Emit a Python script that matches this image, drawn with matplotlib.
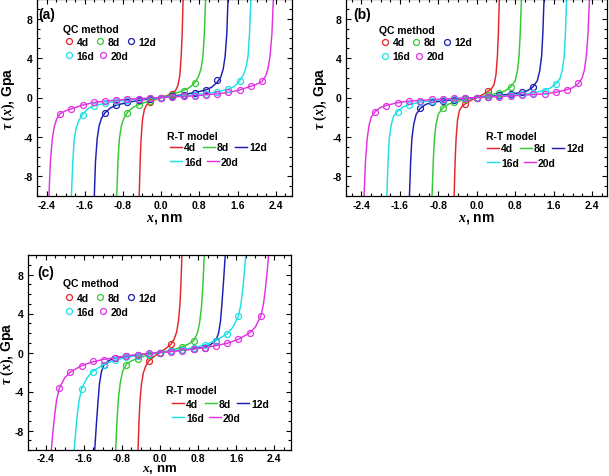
import matplotlib
matplotlib.use("Agg")
import matplotlib.pyplot as plt
from matplotlib.ticker import FixedLocator, FixedFormatter, MultipleLocator

plt.rcParams['font.family'] = ['Liberation Sans', 'DejaVu Sans']
plt.rcParams['font.weight'] = 'bold'
plt.rcParams['mathtext.fontset'] = 'custom'
plt.rcParams['mathtext.it'] = 'Liberation Serif:italic:bold'
plt.rcParams['mathtext.rm'] = 'Liberation Serif:bold'
plt.rcParams['mathtext.bf'] = 'Liberation Serif:bold'

# ---------------- data ----------------
SIZES = ['4d', '8d', '12d', '16d', '20d']
COLORS = ['#E4262B', '#35C935', '#1E1EB2', '#1EE0E6', '#E232E2']
PANELS = ['(a)', '(b)', '(c)']
XTICKS = [-2.4, -1.6, -0.8, 0.0, 0.8, 1.6, 2.4]
XTICK_LABELS = ['-2.4', '-1.6', '-0.8', '0.0', '0.8', '1.6', '2.4']
YTICKS = [-8, -4, 0, 4, 8]
YTICK_LABELS = ['-8', '-4', '0', '4', '8']

# QC method sample positions (nm)
QC_X_4D = [-0.235, 0.0, 0.235]
QC_X_8D = [-0.705, -0.47, -0.235, 0.0, 0.235, 0.47, 0.705]
QC_X_12D = [-1.175, -0.94, -0.705, -0.47, -0.235, 0.0, 0.235, 0.47, 0.705, 0.94, 1.175]
QC_X_16D = [-1.645, -1.41, -1.175, -0.94, -0.705, -0.47, -0.235, 0.0,
            0.235, 0.47, 0.705, 0.94, 1.175, 1.41, 1.645]
QC_X_20D = [-2.115, -1.88, -1.645, -1.41, -1.175, -0.94, -0.705, -0.47, -0.235, 0.0,
            0.235, 0.47, 0.705, 0.94, 1.175, 1.41, 1.645, 1.88, 2.115]

# ---- panel (a) ----
A_QC_4D = [-0.45, 0.0, 0.40]
A_QC_8D = [-1.53, -0.75, -0.34, 0.0, 0.30, 0.68, 1.50]
A_QC_12D = [-1.53, -0.78, -0.50, -0.30, -0.13, 0.0, 0.13, 0.30, 0.50, 0.78, 1.73]
A_QC_16D = [-1.75, -0.85, -0.60, -0.40, -0.27, -0.17, -0.08, 0.0,
            0.08, 0.17, 0.27, 0.40, 0.58, 0.85, 1.67]
A_QC_20D = [-1.63, -1.13, -0.75, -0.50, -0.36, -0.27, -0.18, -0.11, -0.05, 0.0,
            0.05, 0.11, 0.17, 0.26, 0.37, 0.52, 0.78, 1.15, 1.65]

A_RT_X_4D = [-0.475, -0.46, -0.44, -0.42, -0.39, -0.35, -0.30, -0.235, -0.12, 0.0,
             0.12, 0.235, 0.30, 0.35, 0.39, 0.42, 0.44, 0.46, 0.475]
A_RT_4D = [-14.0, -10.0, -6.5, -4.2, -2.2, -1.2, -0.70, -0.42, -0.20, 0.0,
           0.20, 0.42, 0.70, 1.2, 2.2, 4.2, 6.5, 10.0, 14.0]
A_RT_X_8D = [-0.945, -0.93, -0.905, -0.875, -0.835, -0.78, -0.705, -0.59, -0.47, -0.235, 0.0,
             0.235, 0.47, 0.59, 0.705, 0.78, 0.835, 0.875, 0.905, 0.93, 0.945]
A_RT_8D = [-14.0, -10.0, -6.5, -4.2, -2.9, -2.1, -1.50, -1.0, -0.72, -0.32, 0.0,
           0.32, 0.72, 1.0, 1.50, 2.1, 2.9, 4.2, 6.5, 10.0, 14.0]
A_RT_X_12D = [-1.415, -1.40, -1.375, -1.34, -1.30, -1.25, -1.175, -1.06, -0.94, -0.705, -0.47, -0.235, 0.0,
              0.235, 0.47, 0.705, 0.94, 1.06, 1.175, 1.25, 1.30, 1.34, 1.375, 1.40, 1.415]
A_RT_12D = [-14.0, -10.0, -6.5, -4.2, -2.9, -2.1, -1.55, -1.05, -0.78, -0.50, -0.30, -0.13, 0.0,
            0.13, 0.30, 0.50, 0.78, 1.05, 1.55, 2.1, 2.9, 4.2, 6.5, 10.0, 14.0]
A_RT_X_16D = [-1.895, -1.88, -1.85, -1.82, -1.78, -1.72, -1.645, -1.53, -1.41, -1.175, -0.94, -0.705, -0.47, -0.235, 0.0,
              0.235, 0.47, 0.705, 0.94, 1.175, 1.41, 1.53, 1.645, 1.72, 1.78, 1.82, 1.85, 1.88, 1.895]
A_RT_16D = [-14.0, -10.0, -6.5, -4.2, -3.1, -2.3, -1.70, -1.12, -0.85, -0.58, -0.40, -0.27, -0.17, -0.08, 0.0,
            0.08, 0.17, 0.27, 0.40, 0.58, 0.85, 1.12, 1.70, 2.3, 3.1, 4.2, 6.5, 10.0, 14.0]
A_RT_X_20D = [-2.37, -2.35, -2.32, -2.28, -2.24, -2.19, -2.115, -2.0, -1.88, -1.645, -1.41, -1.175, -0.94, -0.705, -0.47, -0.235, 0.0,
              0.235, 0.47, 0.705, 0.94, 1.175, 1.41, 1.645, 1.88, 2.0, 2.115, 2.19, 2.24, 2.28, 2.32, 2.35, 2.37]
A_RT_20D = [-14.0, -10.0, -6.5, -4.2, -3.0, -2.2, -1.64, -1.35, -1.14, -0.77, -0.51, -0.37, -0.27, -0.17, -0.11, -0.05, 0.0,
            0.05, 0.11, 0.17, 0.27, 0.37, 0.51, 0.77, 1.14, 1.35, 1.64, 2.2, 3.0, 4.2, 6.5, 10.0, 14.0]

# ---- panel (b) ----
B_QC_4D = [-0.70, 0.0, 0.62]
B_QC_8D = [-1.09, -0.50, -0.20, 0.0, 0.22, 0.48, 1.02]
B_QC_12D = [-1.09, -0.50, -0.34, -0.22, -0.10, 0.0, 0.10, 0.22, 0.37, 0.51, 1.09]
B_QC_16D = [-1.43, -0.78, -0.47, -0.32, -0.22, -0.14, -0.07, 0.0,
            0.07, 0.14, 0.22, 0.32, 0.45, 0.68, 1.39]
B_QC_20D = [-1.43, -0.85, -0.54, -0.37, -0.31, -0.20, -0.15, -0.10, -0.05, 0.0,
            0.05, 0.10, 0.17, 0.24, 0.31, 0.37, 0.51, 0.78, 1.43]

B_RT_X_4D = [-0.48, -0.47, -0.45, -0.43, -0.40, -0.36, -0.30, -0.235, -0.12, 0.0,
             0.12, 0.235, 0.30, 0.36, 0.40, 0.43, 0.45, 0.47, 0.48]
B_RT_4D = [-14.0, -10.0, -6.5, -4.2, -2.3, -1.3, -0.85, -0.63, -0.28, 0.0,
           0.28, 0.63, 0.85, 1.3, 2.3, 4.2, 6.5, 10.0, 14.0]
B_RT_X_8D = [-0.945, -0.93, -0.905, -0.88, -0.85, -0.80, -0.705, -0.59, -0.47, -0.235, 0.0,
             0.235, 0.47, 0.59, 0.705, 0.80, 0.85, 0.88, 0.905, 0.93, 0.945]
B_RT_8D = [-14.0, -10.0, -6.5, -4.2, -2.8, -1.7, -1.05, -0.68, -0.49, -0.22, 0.0,
           0.22, 0.49, 0.68, 1.05, 1.7, 2.8, 4.2, 6.5, 10.0, 14.0]
B_RT_X_12D = [-1.415, -1.40, -1.375, -1.35, -1.31, -1.26, -1.175, -1.06, -0.94, -0.705, -0.47, -0.235, 0.0,
              0.235, 0.47, 0.705, 0.94, 1.06, 1.175, 1.26, 1.31, 1.35, 1.375, 1.40, 1.415]
B_RT_12D = [-14.0, -10.0, -6.5, -4.2, -2.7, -1.7, -1.10, -0.70, -0.51, -0.35, -0.22, -0.10, 0.0,
            0.10, 0.22, 0.35, 0.51, 0.70, 1.10, 1.7, 2.7, 4.2, 6.5, 10.0, 14.0]
B_RT_X_16D = [-1.885, -1.87, -1.845, -1.82, -1.78, -1.73, -1.645, -1.53, -1.41, -1.175, -0.94, -0.705, -0.47, -0.235, 0.0,
              0.235, 0.47, 0.705, 0.94, 1.175, 1.41, 1.53, 1.645, 1.73, 1.78, 1.82, 1.845, 1.87, 1.885]
B_RT_16D = [-14.0, -10.0, -6.5, -4.2, -2.8, -1.9, -1.40, -0.95, -0.72, -0.46, -0.32, -0.22, -0.14, -0.07, 0.0,
            0.07, 0.14, 0.22, 0.32, 0.46, 0.72, 0.95, 1.40, 1.9, 2.8, 4.2, 6.5, 10.0, 14.0]
B_RT_X_20D = [-2.36, -2.345, -2.315, -2.28, -2.24, -2.19, -2.115, -2.0, -1.88, -1.645, -1.41, -1.175, -0.94, -0.705, -0.47, -0.235, 0.0,
              0.235, 0.47, 0.705, 0.94, 1.175, 1.41, 1.645, 1.88, 2.0, 2.115, 2.19, 2.24, 2.28, 2.315, 2.345, 2.36]
B_RT_20D = [-14.0, -10.0, -6.5, -4.2, -2.8, -1.95, -1.43, -1.0, -0.80, -0.53, -0.37, -0.30, -0.22, -0.16, -0.10, -0.05, 0.0,
            0.05, 0.10, 0.16, 0.22, 0.30, 0.37, 0.53, 0.80, 1.0, 1.43, 1.95, 2.8, 4.2, 6.5, 10.0, 14.0]

# ---- panel (c) ----
C_QC_4D = [-0.89, 0.0, 0.86]
C_QC_8D = [-1.27, -0.65, -0.24, 0.0, 0.20, 0.55, 1.16]
C_QC_12D = [-1.25, -0.58, -0.40, -0.25, -0.12, 0.0, 0.12, 0.25, 0.38, 0.50, 1.22]
C_QC_16D = [-3.73, -1.95, -1.27, -0.79, -0.48, -0.31, -0.17, 0.0,
            0.15, 0.30, 0.50, 0.79, 1.23, 1.92, 3.73]
C_QC_20D = [-3.66, -2.02, -1.37, -0.92, -0.72, -0.55, -0.38, -0.24, -0.10, 0.0,
            0.10, 0.20, 0.35, 0.51, 0.68, 0.96, 1.34, 1.99, 3.70]

C_RT_X_4D = [-0.475, -0.46, -0.44, -0.42, -0.39, -0.35, -0.30, -0.235, -0.12, 0.0,
             0.12, 0.235, 0.30, 0.35, 0.39, 0.42, 0.44, 0.46, 0.475]
C_RT_4D = [-14.0, -10.0, -7.0, -5.0, -3.3, -2.1, -1.4, -0.87, -0.40, 0.0,
           0.40, 0.87, 1.4, 2.1, 3.3, 5.0, 7.0, 10.0, 14.0]
C_RT_X_8D = [-0.945, -0.93, -0.90, -0.87, -0.83, -0.78, -0.705, -0.59, -0.47, -0.235, 0.0,
             0.235, 0.47, 0.59, 0.705, 0.78, 0.83, 0.87, 0.90, 0.93, 0.945]
C_RT_8D = [-14.0, -10.0, -6.8, -4.6, -3.0, -1.9, -1.20, -0.85, -0.60, -0.22, 0.0,
           0.22, 0.60, 0.85, 1.20, 1.9, 3.0, 4.6, 6.8, 10.0, 14.0]
C_RT_X_12D = [-1.39, -1.37, -1.33, -1.30, -1.27, -1.23, -1.175, -1.06, -0.94, -0.705, -0.47, -0.235, 0.0,
              0.235, 0.47, 0.705, 0.94, 1.06, 1.175, 1.23, 1.27, 1.30, 1.33, 1.37, 1.39]
C_RT_12D = [-14.0, -10.0, -7.0, -5.0, -3.2, -2.0, -1.25, -0.80, -0.55, -0.39, -0.25, -0.12, 0.0,
            0.12, 0.25, 0.39, 0.55, 0.80, 1.25, 2.0, 3.2, 5.0, 7.0, 10.0, 14.0]
C_RT_X_16D = [-1.815, -1.80, -1.77, -1.74, -1.70, -1.645, -1.53, -1.41, -1.175, -0.94, -0.705, -0.47, -0.235, 0.0,
              0.235, 0.47, 0.705, 0.94, 1.175, 1.41, 1.53, 1.645, 1.70, 1.74, 1.77, 1.80, 1.815]
C_RT_16D = [-12.0, -10.0, -8.2, -6.6, -5.0, -3.7, -2.6, -1.92, -1.23, -0.79, -0.50, -0.30, -0.15, 0.0,
            0.15, 0.30, 0.50, 0.79, 1.23, 1.92, 2.6, 3.7, 5.0, 6.6, 8.2, 10.0, 12.0]
C_RT_X_20D = [-2.30, -2.28, -2.25, -2.21, -2.17, -2.115, -2.0, -1.88, -1.645, -1.41, -1.175, -0.94, -0.705, -0.47, -0.235, 0.0,
              0.235, 0.47, 0.705, 0.94, 1.175, 1.41, 1.645, 1.88, 2.0, 2.115, 2.17, 2.21, 2.25, 2.28, 2.30]
C_RT_20D = [-12.0, -10.0, -8.3, -6.4, -4.9, -3.7, -2.6, -2.0, -1.35, -0.95, -0.70, -0.52, -0.35, -0.22, -0.10, 0.0,
            0.10, 0.22, 0.35, 0.52, 0.70, 0.95, 1.35, 2.0, 2.6, 3.7, 4.9, 6.4, 8.3, 10.0, 12.0]

QC_X = [QC_X_4D, QC_X_8D, QC_X_12D, QC_X_16D, QC_X_20D]
QC_Y = [[A_QC_4D, A_QC_8D, A_QC_12D, A_QC_16D, A_QC_20D],
        [B_QC_4D, B_QC_8D, B_QC_12D, B_QC_16D, B_QC_20D],
        [C_QC_4D, C_QC_8D, C_QC_12D, C_QC_16D, C_QC_20D]]
RT_X = [[A_RT_X_4D, A_RT_X_8D, A_RT_X_12D, A_RT_X_16D, A_RT_X_20D],
        [B_RT_X_4D, B_RT_X_8D, B_RT_X_12D, B_RT_X_16D, B_RT_X_20D],
        [C_RT_X_4D, C_RT_X_8D, C_RT_X_12D, C_RT_X_16D, C_RT_X_20D]]
RT_Y = [[A_RT_4D, A_RT_8D, A_RT_12D, A_RT_16D, A_RT_20D],
        [B_RT_4D, B_RT_8D, B_RT_12D, B_RT_16D, B_RT_20D],
        [C_RT_4D, C_RT_8D, C_RT_12D, C_RT_16D, C_RT_20D]]

# ---------------- layout (pixels of the 609x477 canvas) ----------------
W, H = 609, 477
fig = plt.figure(figsize=(W / 100, H / 100), dpi=100)
AXES_PX = [(37, 0, 292, 197), (346, 0, 607, 197), (28, 256, 291, 451)]
XLIMS = [(-2.6, 2.74), (-2.72, 2.71), (-2.77, 2.75)]
PANEL_LABEL_PX = [(38, 15), (353, 15), (37, 273)]
YLABEL_RIGHT_PX = [17.5, 329, 16.5]
XLABEL_TOP_PX = [212, 212, 463]
XLABEL_FS = [10, 10, 9.5]
XTICK_PAD = [3, 3, 2]
# legend layout: (title_left, title_cy, handle_left, row1_cy, row2_cy)
QC_LEG_PX = [(63, 30, 64, 43, 57), (379, 31, 380, 43.5, 57.5), (63, 284, 64, 299, 312.5)]
RT_LEG_PX = [(167, 137, 170, 148.5, 163), (485.5, 137, 487, 149.5, 164), (166.5, 391.5, 172, 404.5, 419)]
FS = 7.5


def to_ax(box, x, y):
    x0, y0, x1, y1 = box
    return ((x - x0) / (x1 - x0), (y1 - y) / (y1 - y0))


for p, box in enumerate(AXES_PX):
    x0, y0, x1, y1 = box
    ax = fig.add_axes([x0 / W, 1 - y1 / H, (x1 - x0) / W, (y1 - y0) / H])
    line_h, qc_h = [], []
    for i, s in enumerate(SIZES):
        l, = ax.plot(RT_X[p][i], RT_Y[p][i], color=COLORS[i], lw=1.05, zorder=2)
        m, = ax.plot(QC_X[i], QC_Y[p][i], ls='none', marker='o', ms=4.3, mfc='none',
                     mec=COLORS[i], mew=0.9, zorder=3)
        line_h.append(l)
        qc_h.append(m)
    ax.set_xlim(*XLIMS[p])
    ax.set_ylim(-10, 10)
    ax.xaxis.set_major_locator(FixedLocator(XTICKS))
    ax.xaxis.set_major_formatter(FixedFormatter(XTICK_LABELS))
    ax.yaxis.set_major_locator(FixedLocator(YTICKS))
    ax.yaxis.set_major_formatter(FixedFormatter(YTICK_LABELS))
    ax.xaxis.set_minor_locator(MultipleLocator(0.2))
    ax.yaxis.set_minor_locator(MultipleLocator(1))
    ax.tick_params(which='both', direction='in', top=True, right=True, width=0.8)
    ax.tick_params(which='major', length=3.5, labelsize=7.5, pad=3)
    ax.tick_params(axis='x', which='major', pad=XTICK_PAD[p])
    ax.tick_params(which='minor', length=2)
    for sp in ax.spines.values():
        sp.set_linewidth(0.9)
    ax.set_xlabel('$x$, nm', fontsize=XLABEL_FS[p], fontweight='bold')
    ax.set_ylabel(r'$\tau\ (x)$, Gpa', fontsize=10, fontweight='bold')
    ax.xaxis.set_label_coords(0.5, to_ax(box, 0, XLABEL_TOP_PX[p])[1])
    ax.yaxis.set_label_coords(to_ax(box, YLABEL_RIGHT_PX[p], 0)[0], 0.5)
    px, py = PANEL_LABEL_PX[p]
    ax.text(*to_ax(box, px, py), PANELS[p], transform=ax.transAxes, fontsize=10,
            fontweight='bold', ha='left', va='center')

    # QC method legend (two rows)
    tl, tcy, hl, r1, r2 = QC_LEG_PX[p]
    ax.text(*to_ax(box, tl, tcy), 'QC method', transform=ax.transAxes,
            fontsize=FS, fontweight='bold', ha='left', va='center')
    common = dict(loc='center left', frameon=False, prop={'weight': 'bold', 'size': FS},
                  borderpad=0, borderaxespad=0, handletextpad=0.3)
    lg = ax.legend(qc_h[:3], SIZES[:3], ncol=3, bbox_to_anchor=to_ax(box, hl, r1),
                   handlelength=0.9, columnspacing=0.62, **common)
    ax.add_artist(lg)
    lg = ax.legend(qc_h[3:], SIZES[3:], ncol=2, bbox_to_anchor=to_ax(box, hl, r2),
                   handlelength=0.9, columnspacing=0.4, **common)
    ax.add_artist(lg)

    # R-T model legend (two rows)
    tl, tcy, hl, r1, r2 = RT_LEG_PX[p]
    ax.text(*to_ax(box, tl, tcy), 'R-T model', transform=ax.transAxes,
            fontsize=FS, fontweight='bold', ha='left', va='center')
    common['handletextpad'] = 0.22
    lg = ax.legend(line_h[:3], SIZES[:3], ncol=3, bbox_to_anchor=to_ax(box, hl, r1),
                   handlelength=1.15, columnspacing=0.6, **common)
    ax.add_artist(lg)
    ax.legend(line_h[3:], SIZES[3:], ncol=2, bbox_to_anchor=to_ax(box, hl, r2),
              handlelength=1.15, columnspacing=0.45, **common)

fig.savefig('out.png', dpi=100)
